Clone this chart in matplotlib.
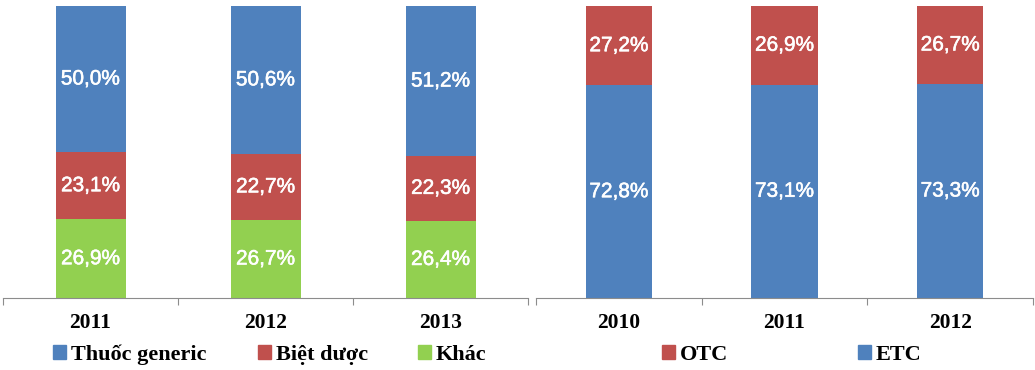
import matplotlib
matplotlib.use('Agg')
import matplotlib.pyplot as plt
import matplotlib.patheffects as pe
from matplotlib.patches import Patch
import numpy as np

# left chart: drug type share
years_left = ['2011', '2012', '2013']
khac = [26.9, 26.7, 26.4]
biet_duoc = [23.1, 22.7, 22.3]
generic = [50.0, 50.6, 51.2]

# right chart: ETC / OTC share
years_right = ['2010', '2011', '2012']
etc = [72.8, 73.1, 73.3]
otc = [27.2, 26.9, 26.7]

blue = '#4F81BD'
red = '#C0504D'
green = '#92D050'
axis_gray = '#8C8C8C'

W, H = 1035, 370
fig = plt.figure(figsize=(W / 100, H / 100), dpi=100)
ax1 = fig.add_axes([3 / W, 72 / H, 525 / W, 292 / H])
ax2 = fig.add_axes([536 / W, 72 / H, 497 / W, 292 / H])


def fmt(v):
    return f'{v:.1f}%'.replace('.', ',')


def stacked(ax, cats, series, colors, width):
    x = np.arange(len(cats))
    bottom = np.zeros(len(cats))
    for vals, col in zip(series, colors):
        vals = np.array(vals)
        ax.bar(x, vals, width, bottom=bottom, color=col, edgecolor='none')
        for xi, b, v in zip(x, bottom, vals):
            ax.text(xi, b + v / 2, fmt(v), ha='center', va='center', color='white',
                    fontsize=15, family='Liberation Sans',
                    path_effects=[pe.withStroke(linewidth=0.4, foreground='white')])
        bottom += vals
    ax.set_xlim(-0.5, len(cats) - 0.5)
    ax.set_ylim(0, 100)
    ax.set_yticks([])
    for s in ['top', 'right', 'left']:
        ax.spines[s].set_visible(False)
    ax.spines['bottom'].set_color(axis_gray)
    ax.set_xticks(np.arange(len(cats) + 1) - 0.5)
    ax.set_xticklabels([])
    ax.tick_params(axis='x', which='major', length=5, color=axis_gray, direction='out')
    ax.set_xticks(x, minor=True)
    ax.set_xticklabels(cats, minor=True, fontsize=15.5, fontweight='bold',
                       family='Liberation Serif')
    ax.tick_params(axis='x', which='minor', length=0, pad=11)


stacked(ax1, years_left, [khac, biet_duoc, generic], [green, red, blue], 0.4)
stacked(ax2, years_right, [etc, otc], [blue, red], 0.4)

leg_font = {'family': 'Liberation Serif', 'weight': 'bold', 'size': 16}

# legend entries: (colour, label, x of the square in px)
legend_items = [
    (blue, 'Thuốc generic', 53),
    (red, 'Biệt dược', 258),
    (green, 'Khác', 418),
    (red, 'OTC', 662),
    (blue, 'ETC', 858),
]
for col, lab, px in legend_items:
    fig.legend([Patch(color=col)], [lab], loc='center left',
               bbox_to_anchor=(px / W, 1 - 355 / H), frameon=False, prop=leg_font,
               borderpad=0, borderaxespad=0, handlelength=0.6, handleheight=0.6,
               handletextpad=0.2)

fig.savefig('out.png', dpi=100)
